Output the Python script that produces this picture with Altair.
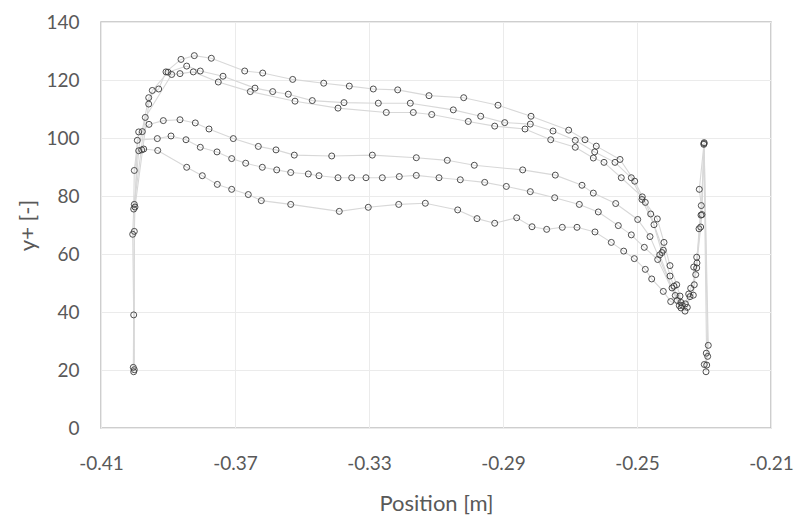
import altair as alt
import pandas as pd

# ---- leading-edge points (vertical run at x ~ -0.400) ----
le_a_x = [-0.40036, -0.40024, -0.40054, -0.40024, -0.40006]
le_a_y = [20.9, 39.0, 66.8, 75.5, 88.8]
le_b_x = [-0.40006, -0.40006, -0.39985]
le_b_y = [20.1, 67.8, 76.2]
le_c_x = [-0.40024, -0.40006]
le_c_y = [19.4, 77.1]

# ---- upper curves ----
u1_x = [-0.39576, -0.39278, -0.3906, -0.38612, -0.38215, -0.37707, -0.3671, -0.36173, -0.35278,
        -0.34352, -0.33588, -0.32872, -0.32143, -0.31209, -0.30173, -0.29149, -0.28164, -0.27039,
        -0.26552, -0.26215, -0.25507, -0.25069, -0.24752, -0.24394, -0.24194, -0.24015, -0.23815]
u1_y = [113.9, 116.9, 122.8, 127.1, 128.4, 127.5, 123.1, 122.4, 120.2,
        118.9, 117.9, 116.9, 116.6, 114.6, 113.9, 111.3, 107.5, 102.7,
        99.4, 97.2, 92.6, 85.1, 77.8, 72.1, 64.0, 56.0, 49.4]
u2_x = [-0.39576, -0.39469, -0.39, -0.38442, -0.38036, -0.37358, -0.36403, -0.35875, -0.35409,
        -0.34693, -0.33746, -0.32722, -0.31767, -0.30484, -0.29666, -0.28949, -0.28185, -0.27507,
        -0.26842, -0.26263, -0.25657, -0.2517, -0.24851, -0.24493, -0.24215, -0.24015, -0.23896]
u2_y = [111.7, 116.4, 122.7, 124.8, 123.1, 121.3, 117.2, 116.0, 115.1,
        112.9, 112.2, 112.0, 112.0, 109.7, 107.5, 105.3, 104.8, 102.4,
        99.2, 95.2, 91.6, 86.3, 78.8, 70.1, 61.3, 52.4, 48.9]
u3_x = [-0.39678, -0.3889, -0.38642, -0.38245, -0.37499, -0.36543, -0.35209, -0.33925, -0.32484,
        -0.31678, -0.31128, -0.30036, -0.29248, -0.28343, -0.27576, -0.26842, -0.26304, -0.25985,
        -0.25469, -0.24842, -0.24591, -0.24254, -0.24322, -0.23955]
u3_y = [107.1, 121.9, 122.2, 122.8, 119.3, 116.0, 112.7, 110.3, 108.8,
        108.8, 108.1, 105.7, 104.1, 103.1, 99.4, 96.8, 93.1, 91.6,
        86.3, 79.7, 73.8, 60.5, 59.7, 48.3]

# ---- lower curves ----
l1_x = [-0.39875, -0.39767, -0.39567, -0.3914, -0.38642, -0.38185, -0.37776, -0.37051, -0.36304,
        -0.35776, -0.3523, -0.34113, -0.32901, -0.31588, -0.30663, -0.29857, -0.28412, -0.27439,
        -0.26642, -0.26304, -0.25636, -0.24979, -0.24612, -0.23857]
l1_y = [102.1, 102.2, 104.7, 106.0, 106.3, 105.2, 103.1, 99.8, 97.1,
        95.9, 94.1, 93.8, 94.1, 93.2, 92.3, 90.6, 89.0, 87.2,
        83.7, 81.0, 77.4, 71.9, 66.0, 45.7]
l2_x = [-0.39916, -0.39319, -0.3891, -0.38463, -0.38036, -0.37537, -0.37099, -0.36681, -0.36185,
        -0.35755, -0.35337, -0.34812, -0.34493, -0.33925, -0.33516, -0.3309, -0.32603, -0.32096,
        -0.31588, -0.3091, -0.30275, -0.29546, -0.28901, -0.28185, -0.27457, -0.26722, -0.26155,
        -0.25558, -0.2517, -0.24782, -0.24382]
l2_y = [99.2, 99.8, 100.7, 99.4, 96.8, 95.2, 92.9, 91.3, 89.9,
        89.0, 88.1, 87.6, 87.0, 86.3, 86.3, 86.3, 86.3, 86.7,
        87.1, 86.3, 85.6, 84.7, 83.3, 81.5, 79.4, 77.1, 74.5,
        69.8, 66.6, 62.3, 58.1]
l3_x = [-0.39875, -0.39785, -0.39725, -0.39307, -0.38442, -0.37976, -0.37528, -0.37099, -0.36603,
        -0.36215, -0.35337, -0.33887, -0.33021, -0.32113, -0.31319, -0.30352, -0.29776, -0.29248,
        -0.28591, -0.28134, -0.27696, -0.2723, -0.26791, -0.26254, -0.25767, -0.25397, -0.2508,
        -0.24752, -0.24561, -0.24215, -0.23994]
l3_y = [95.6, 95.9, 96.2, 95.7, 89.9, 87.0, 84.0, 82.3, 80.5,
        78.4, 77.1, 74.7, 76.1, 77.1, 77.5, 75.2, 72.2, 70.6,
        72.5, 69.4, 68.5, 69.2, 69.2, 67.6, 64.0, 61.0, 58.4,
        54.7, 51.4, 47.1, 43.6]

# ---- trailing-edge dip, rise, spike and drop ----
dip_a_x = [-0.23716, -0.23687, -0.23558]
dip_a_y = [45.5, 43.3, 42.8]
dip_b_x = [-0.23797, -0.23737, -0.23499]
dip_b_y = [44.0, 42.2, 41.6]
dip_c_x = [-0.23648, -0.23567, -0.23687]
dip_c_y = [42.3, 40.3, 41.4]
rise_a_x = [-0.23457, -0.23397, -0.23248, -0.23218, -0.23149, -0.23081, -0.2314]
rise_a_y = [46.2, 48.2, 52.9, 55.2, 68.7, 76.7, 82.3]
rise_b_x = [-0.23418, -0.2329, -0.23307, -0.23209, -0.23099, -0.2309]
rise_b_y = [45.3, 49.4, 55.5, 56.9, 69.3, 73.4]
rise_c_x = [-0.23319, -0.23218, -0.2306]
rise_c_y = [45.8, 58.9, 73.6]
spike_x = [-0.2300, -0.22995, -0.23005]
spike_y = [98.1, 98.4, 97.8]
te_a_x = [-0.22872, -0.22931, -0.2294]
te_a_y = [28.5, 25.8, 19.4]
te_b_x = [-0.2289, -0.22991]
te_b_y = [24.7, 21.9]
te_c_x = [-0.22919]
te_c_y = [21.7]

x_ticks = [-0.41, -0.37, -0.33, -0.29, -0.25, -0.21]
y_ticks = [0, 20, 40, 60, 80, 100, 120, 140]


def P(xs, ys):
    return list(zip(xs, ys))


LE_A, LE_B, LE_C = P(le_a_x, le_a_y), P(le_b_x, le_b_y), P(le_c_x, le_c_y)
U1, U2, U3 = P(u1_x, u1_y), P(u2_x, u2_y), P(u3_x, u3_y)
L1, L2, L3 = P(l1_x, l1_y), P(l2_x, l2_y), P(l3_x, l3_y)
DA, DB, DC = P(dip_a_x, dip_a_y), P(dip_b_x, dip_b_y), P(dip_c_x, dip_c_y)
RA, RB, RC = P(rise_a_x, rise_a_y), P(rise_b_x, rise_b_y), P(rise_c_x, rise_c_y)
SP = P(spike_x, spike_y)
TA, TB, TC = P(te_a_x, te_a_y), P(te_b_x, te_b_y), P(te_c_x, te_c_y)

paths = {
    "A": LE_A + U1 + DA + RA + [SP[0]] + TA,
    "B": LE_B + U2 + DB + RB + [SP[1]] + TB,
    "C": LE_C + U3 + DC + RC + [SP[2]] + TC,
    "L1": [LE_A[-1]] + L1 + DA[:1],
    "L2": [LE_B[-1]] + L2 + DB[:1],
    "L3": [LE_C[-1]] + L3 + DC[:1],
}

line_rows = []
for name, pts in paths.items():
    for i, (x, y) in enumerate(pts):
        line_rows.append({"path": name, "idx": i, "x": x, "y": y})
line_df = pd.DataFrame(line_rows)

all_pts = (LE_A + LE_B + LE_C + U1 + U2 + U3 + L1 + L2 + L3 + DA + DB + DC
           + RA + RB + RC + SP + TA + TB + TC)
pt_df = pd.DataFrame(all_pts, columns=["x", "y"])

FONT = "Lato"
GREY = "#595959"

x_enc = alt.X(
    "x:Q",
    scale=alt.Scale(domain=[-0.41, -0.21], nice=False, zero=False),
    axis=alt.Axis(
        values=x_ticks,
        labelExpr="replace(format(datum.value, '.2f'), '\u2212', '-')",
        title="Position [m]",
        domain=False, ticks=False,
        labelPadding=26, titlePadding=20,
        labelFontSize=19, titleFontSize=22,
        labelColor=GREY, titleColor=GREY,
        labelFont=FONT, titleFont=FONT, titleFontWeight="normal",
        gridColor="#ebebeb", labelFlush=False,
    ),
)
y_enc = alt.Y(
    "y:Q",
    scale=alt.Scale(domain=[0, 140], nice=False),
    axis=alt.Axis(
        values=y_ticks,
        title="y+ [-]",
        domain=False, ticks=False,
        labelPadding=22, titlePadding=6,
        labelFontSize=19, titleFontSize=22,
        labelColor=GREY, titleColor=GREY,
        labelFont=FONT, titleFont=FONT, titleFontWeight="normal",
        gridColor="#ebebeb",
    ),
)

lines = alt.Chart(line_df).mark_line(color="#d8d8d8", strokeWidth=1.1).encode(
    x=x_enc, y=y_enc, detail="path:N", order="idx:Q"
)
points = alt.Chart(pt_df).mark_point(
    shape="circle", filled=False, color="#3c3c3c", size=36, strokeWidth=0.9, opacity=1
).encode(x="x:Q", y="y:Q")

chart = (
    alt.layer(lines, points)
    .properties(
        width=670, height=406,
        padding={"left": 101, "top": 22, "right": 25, "bottom": 91},
        autosize="none",
        background="white",
    )
    .configure_view(stroke="#bfbfbf", strokeWidth=1.5)
)

chart.save("out.html", embed_options={"renderer": "svg", "actions": False})
